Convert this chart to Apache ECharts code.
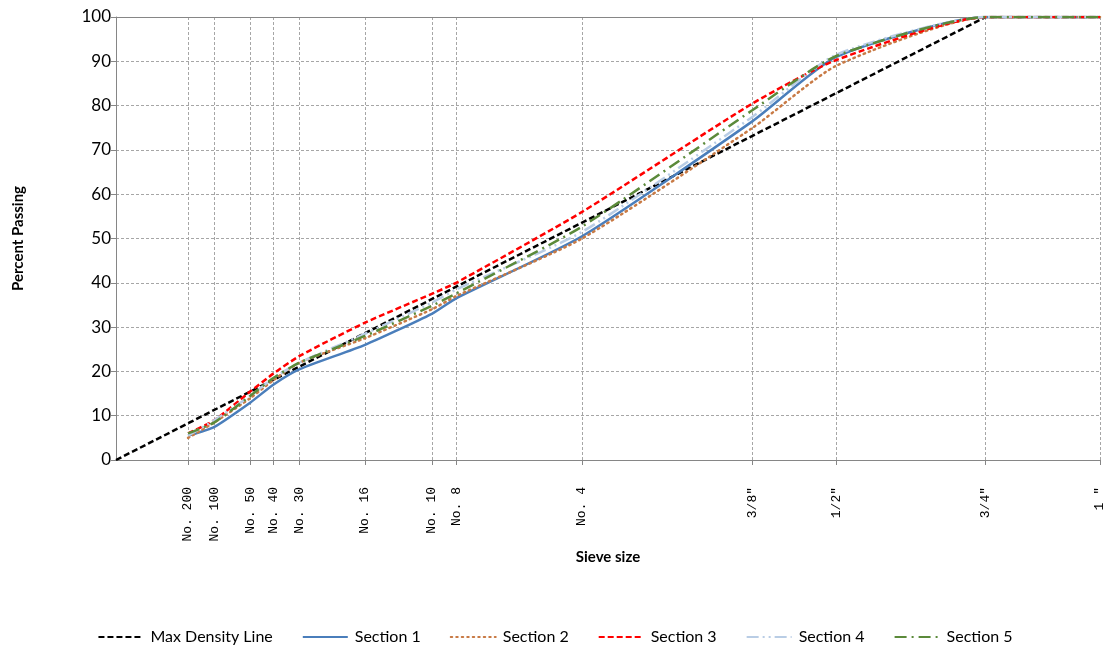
<!DOCTYPE html>
<html><head><meta charset="utf-8">
<script src="https://cdn.jsdelivr.net/npm/echarts@6/dist/echarts.min.js"></script>
<style>html,body{margin:0;padding:0;background:#fff}#c{width:1110px;height:656px}</style>
</head><body><div id="c"></div>
<script>
// Sieve sizes (mm) and their labels
const sieveSizes = [0.075, 0.15, 0.3, 0.425, 0.6, 1.18, 2.0, 2.36, 4.75, 9.5, 12.5, 19, 25];
const sieveLabels = ['No. 200','No. 100','No. 50','No. 40','No. 30','No. 16','No. 10','No. 8','No. 4','3/8"','1/2"','3/4"','1 "'];
const yTicks = [0,10,20,30,40,50,60,70,80,90,100];

// Max density line: passes through origin and 100% at 3/4", flat to 1"
const maxDensitySizes = [0, 19, 25];
const maxDensityValues = [0, 100, 100];

const section1 = [5.5, 7.5, 13, 17, 20.5, 26, 33, 36.5, 50.5, 76.5, 91, 100, 100];
const section2 = [5, 8.5, 14, 18, 22, 27.5, 34, 37, 50, 75, 89, 100, 100];
const section3 = [6, 9, 15.5, 19.5, 23.5, 31, 37.5, 40, 56, 80.5, 90.3, 100, 100];
const section4 = [5.5, 9, 14.5, 18.5, 22, 28.5, 35.5, 38.5, 51.5, 77.5, 91.5, 100, 100];
const section5 = [6, 8.5, 14.5, 18.5, 22, 28, 34.8, 37.6, 52.7, 79, 91.2, 100, 100];

// 0.45 power scale for the x-axis
const P = 0.45;
const pw = d => Math.pow(d, P);
const xPos = sieveSizes.map(pw);
const xMax = pw(25);

function pairs(sizes, vals){ return sizes.map((s,i)=>[pw(s), vals[i]]); }
function labelFor(v){
  let best = 0, bd = Infinity;
  xPos.forEach((p,i)=>{ const d = Math.abs(p-v); if (d<bd){bd=d;best=i;} });
  return sieveLabels[best];
}

const chart = echarts.init(document.getElementById('c'), null, {renderer:'canvas'});
const gridColor = '#a6a6a6';
const mk = (name, data, color, type, smooth) => ({
  name, type:'line', data, symbol:'none', smooth: smooth,
  lineStyle:{color, width:2.5, type, cap: Array.isArray(type) && type[0] < 2 ? 'round' : 'butt'},
  itemStyle:{color}
});

chart.setOption({
  animation:false,
  grid:{left:116, right:10, top:17, bottom:196, containLabel:false},
  legend:{
    top:624, left:'center', itemWidth:45, itemHeight:10, itemGap:29,
    itemStyle:{opacity:0, borderWidth:0},
    textStyle:{fontFamily:'Lato', fontSize:16, color:'#000', padding:[0,0,0,2]},
    data:['Max Density Line','Section 1','Section 2','Section 3','Section 4','Section 5']
  },
  xAxis:[{
    type:'value', min:0, max:xMax,
    name:'Sieve size', nameLocation:'middle', nameGap:86,
    nameTextStyle:{fontFamily:'Lato', fontWeight:'bold', fontSize:15, color:'#000'},
    axisLine:{show:true, lineStyle:{color:'#868686', width:1}},
    axisTick:{show:true, customValues:xPos, length:5, lineStyle:{color:'#868686'}},
    axisLabel:{customValues:xPos, rotate:90, margin:27, formatter:v=>labelFor(v),
      fontFamily:'Liberation Mono', fontSize:13, color:'#000'},
    splitLine:{show:true, lineStyle:{color:gridColor, type:[3,2], width:1}}
  },{
    type:'value', min:0, max:xMax, position:'top',
    axisLine:{show:true, lineStyle:{color:'#868686', width:1}},
    axisTick:{show:false}, axisLabel:{show:false}, splitLine:{show:false}
  }],
  yAxis:{
    type:'value', min:0, max:100, interval:10,
    name:'Percent Passing', nameLocation:'middle', nameGap:90, nameRotate:90,
    nameTextStyle:{fontFamily:'Lato', fontWeight:'bold', fontSize:15, color:'#000'},
    axisLine:{show:true, lineStyle:{color:'#868686', width:1}},
    axisTick:{show:true, length:5, lineStyle:{color:'#868686'}},
    axisLabel:{fontFamily:'Lato', fontSize:17, color:'#000', margin:5,
      customValues:yTicks},
    splitLine:{show:true, lineStyle:{color:gridColor, type:[3,2], width:1}}
  },
  series:[
    mk('Max Density Line', pairs(maxDensitySizes, maxDensityValues), '#000000', [6,3], false),
    mk('Section 1', pairs(sieveSizes, section1), '#4a7ebb', 'solid', 0.2),
    mk('Section 2', pairs(sieveSizes, section2), '#c87a45', [1.5,4], 0.2),
    mk('Section 3', pairs(sieveSizes, section3), '#ff0000', [6,3], 0.2),
    mk('Section 4', pairs(sieveSizes, section4), '#b9cde5', [12,4,2,4,2,4], 0.2),
    mk('Section 5', pairs(sieveSizes, section5), '#5b8a3a', [12,5,2,5], 0.2)
  ]
});
</script></body></html>
